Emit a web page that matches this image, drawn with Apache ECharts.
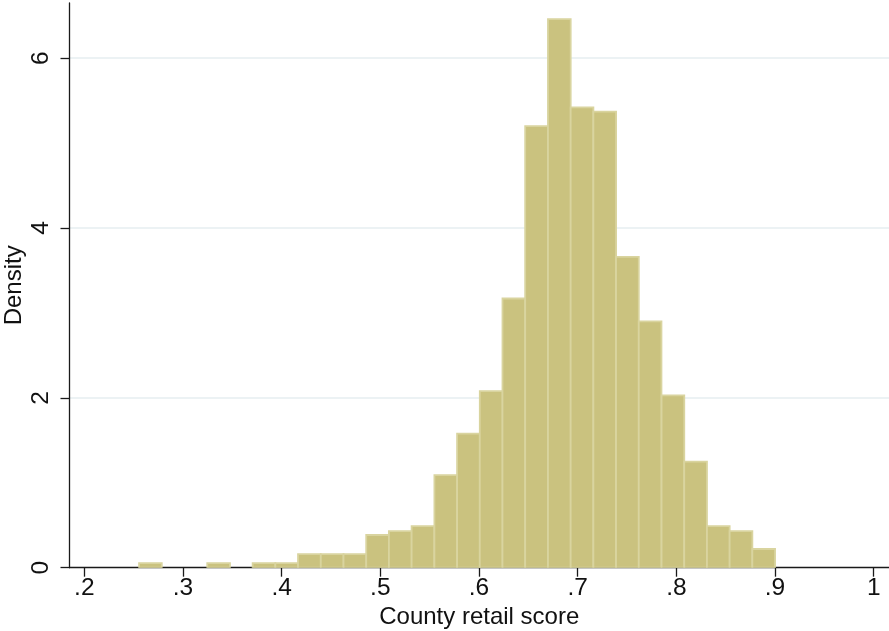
<!DOCTYPE html>
<html>
<head>
<meta charset="utf-8">
<title>County retail score histogram</title>
<script src="https://cdn.jsdelivr.net/npm/echarts@6/dist/echarts.min.js"></script>
<style>
  html, body { margin: 0; padding: 0; background: #ffffff; }
  #chart { width: 889px; height: 631px; }
</style>
</head>
<body>
<div id="chart"></div>
<script>
// Histogram bins: left edges, common bin width and density per bin
const binLeftEdges = [
  0.2555, 0.2785, 0.3015, 0.3246, 0.3476, 0.3706, 0.3936, 0.4166, 0.4397, 0.4627,
  0.4857, 0.5087, 0.5317, 0.5548, 0.5778, 0.6008, 0.6238, 0.6468, 0.6699, 0.6929,
  0.7159, 0.7389, 0.7619, 0.7850, 0.8080, 0.8310, 0.8540, 0.8770
];
const binWidth = 0.02302;
const densities = [
  0.055, 0, 0, 0.055, 0, 0.055, 0.055, 0.16, 0.16, 0.16,
  0.385, 0.43, 0.49, 1.09, 1.58, 2.08, 3.17, 5.20, 6.46, 5.42,
  5.37, 3.66, 2.90, 2.03, 1.25, 0.49, 0.43, 0.22
];

// Axis ticks
const xTickValues = [0.2, 0.3, 0.4, 0.5, 0.6, 0.7, 0.8, 0.9, 1];
const xTickLabels = ['.2', '.3', '.4', '.5', '.6', '.7', '.8', '.9', '1'];
const yTickValues = [0, 2, 4, 6];
const yGridValues = [2, 4, 6];

const FONT = '"Liberation Sans", Arial, sans-serif';
const AXIS_COLOR = '#1a1a1a';

const binData = binLeftEdges.map((x0, i) => [x0, x0 + binWidth, densities[i]]);

const chart = echarts.init(document.getElementById('chart'), null, { renderer: 'canvas' });

chart.setOption({
  backgroundColor: '#ffffff',
  animation: false,
  grid: { left: 69.5, right: 0, top: 3, bottom: 63.3, containLabel: false, outerBoundsMode: 'none' },
  xAxis: {
    type: 'value',
    min: 0.185,
    max: 1.0155,
    name: 'County retail score',
    nameLocation: 'middle',
    nameGap: 38,
    nameMoveOverlap: false,
    nameTextStyle: { fontFamily: FONT, fontSize: 24, color: '#111' },
    axisLine: { show: true, onZero: false, lineStyle: { color: AXIS_COLOR, width: 1.3 } },
    axisTick: { show: true, length: 9, customValues: xTickValues, lineStyle: { color: AXIS_COLOR, width: 1.3 } },
    axisLabel: {
      customValues: xTickValues,
      margin: 8,
      fontFamily: FONT, fontSize: 24.5, color: '#111',
      formatter: (v) => xTickLabels[xTickValues.findIndex(t => Math.abs(t - v) < 1e-9)]
    },
    splitLine: { show: false }
  },
  yAxis: {
    type: 'value',
    min: 0,
    max: 6.65,
    name: 'Density',
    nameLocation: 'middle',
    nameGap: 43,
    nameMoveOverlap: false,
    nameRotate: 90,
    nameTextStyle: { fontFamily: FONT, fontSize: 24, color: '#111' },
    axisLine: { show: true, lineStyle: { color: AXIS_COLOR, width: 1.3 } },
    axisTick: { show: true, length: 9, customValues: yTickValues, lineStyle: { color: AXIS_COLOR, width: 1.3 } },
    axisLabel: {
      customValues: yTickValues,
      rotate: 90,
      margin: 16,
      fontFamily: FONT, fontSize: 24.5, color: '#111'
    },
    splitLine: { show: false }
  },
  series: [{
    type: 'custom',
    data: binData,
    encode: { x: [0, 1], y: 2 },
    clip: true,
    renderItem: (params, api) => {
      const d = api.value(2);
      if (!d) return null;
      const p0 = api.coord([api.value(0), d]);
      const p1 = api.coord([api.value(1), 0]);
      return {
        type: 'rect',
        shape: { x: p0[0], y: p0[1], width: p1[0] - p0[0], height: p1[1] - p0[1] },
        style: { fill: '#cac27f', stroke: '#d9d49f', lineWidth: 1.8 }
      };
    },
    markLine: {
      silent: true,
      symbol: ['none', 'none'],
      label: { show: false },
      lineStyle: { color: '#e6eef1', width: 1.6, type: 'solid' },
      z: -1,
      data: yGridValues.map(v => ({ yAxis: v }))
    },
    z: 2
  }]
});
</script>
</body>
</html>
